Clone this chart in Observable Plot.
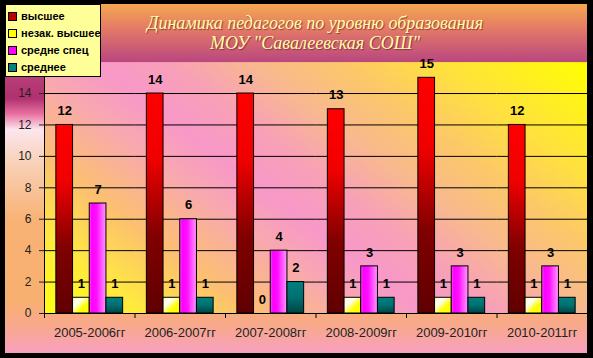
<!DOCTYPE html>
<html><head><meta charset="utf-8">
<script src="https://cdn.jsdelivr.net/npm/d3@7"></script>
<script src="https://cdn.jsdelivr.net/npm/@observablehq/plot@0.6"></script>
<style>
html,body{margin:0;padding:0;background:#000;width:593px;height:358px;overflow:hidden;}
#wrap{position:absolute;left:5px;top:4px;width:582px;height:349px;overflow:hidden;
  background:linear-gradient(to bottom,#f4a850 0%,#e47a66 7%,#bc4a7e 16%,#b03070 27%,#e870a0 31.5%,#fce6ee 36%,#f8d2ba 45%,#f8b274 62%,#f8b070 85%,#f8a890 93%,#f8a0c0 100%);}
#chart{position:absolute;left:0;top:0;}
#title{position:absolute;left:38px;width:544px;top:9px;text-align:center;
  font-family:"Liberation Serif","DejaVu Serif",serif;font-style:italic;font-size:18px;line-height:20px;
  color:#ffffa0;text-shadow:1px 1px 1px rgba(110,30,60,0.7);white-space:pre;}
#legend{position:absolute;left:0;top:0;width:94px;height:71px;background:#ffff99;border:1px solid #000;
  font-family:"Liberation Sans",Arial,sans-serif;font-weight:bold;font-size:11px;color:#000;}
#legend .item{position:absolute;left:2px;height:12px;line-height:12px;white-space:nowrap;}
#legend .sw{display:inline-block;width:7px;height:7px;border:1px solid #000;margin-right:4px;vertical-align:middle;position:relative;top:-1px;}
</style></head><body>
<div id="wrap"><div id="chart"></div><div id="title"></div><div id="legend"></div></div>
<script>
const titleLines = ["Динамика педагогов по уровню образования", "МОУ \"Савалеевская СОШ\""];
const categories = ["2005-2006гг", "2006-2007гг", "2007-2008гг", "2008-2009гг", "2009-2010гг", "2010-2011гг"];
const seriesNames = ["высшее", "незак. высшее", "средне спец", "среднее"];
const vysshee = [12, 14, 14, 13, 15, 12];
const nezakVysshee = [1, 1, 0, 1, 1, 1];
const sredneSpec = [7, 6, 4, 3, 3, 3];
const srednee = [1, 1, 2, 1, 1, 1];
const yTicks = [0, 2, 4, 6, 8, 10, 12, 14];
const gridTicks = [0, 2, 4, 6, 8, 10, 12, 14];
const seriesFills = ["url(#gRed)", "url(#gYellow)", "url(#gMagenta)", "url(#gTeal)"];
const legendSwatch = ["#c00000", "#ffff00", "#ff00ff", "#008080"];

const seriesValues = [vysshee, nezakVysshee, sredneSpec, srednee];
const rows = [];
categories.forEach((c, i) => seriesNames.forEach((s, j) => rows.push({year: c, series: s, value: seriesValues[j][i]})));

document.getElementById("title").textContent = titleLines.join("\n");
const leg = document.getElementById("legend");
seriesNames.forEach((s, j) => {
  const d = document.createElement("div");
  d.className = "item";
  d.style.top = (5 + j * 17) + "px";
  d.innerHTML = `<span class="sw" style="background:${legendSwatch[j]}"></span>`;
  d.appendChild(document.createTextNode(s));
  leg.appendChild(d);
});

const W = 582, H = 349, mL = 39, mR = 0;
const band = (W - mL - mR) / categories.length;

const plot = Plot.plot({
  width: W, height: H,
  marginLeft: mL, marginRight: mR, marginTop: 57.6, marginBottom: 40,
  style: {background: "transparent", fontFamily: "'Liberation Sans', Arial, sans-serif", color: "#000", overflow: "visible"},
  fx: {domain: categories, padding: 0, round: false, label: null, axis: null},
  x: {domain: seriesNames, paddingInner: 0, paddingOuter: 0.71, round: false, axis: null},
  y: {domain: [0, 16], axis: null},
  marks: [
    Plot.frame({fill: "url(#plotBg)", stroke: null, facet: "super"}),
    Plot.ruleY(gridTicks, {stroke: "#000", strokeWidth: 1}),
    ...seriesNames.map((s, j) => Plot.barY(rows.filter(r => r.series === s), {
      fx: "year", x: "series", y: "value", fill: seriesFills[j], stroke: "#000", strokeWidth: 1
    })),
    Plot.text(rows, {fx: "year", x: "series", y: "value", text: d => String(d.value), dy: -14,
      fontWeight: "bold", fontSize: 13, fill: "#000"}),
    Plot.axisY({ticks: yTicks, tickSize: 5, tickPadding: 8, fontSize: 12, label: null, color: "#222"}),
    Plot.frame({anchor: "left", stroke: "#000", facet: "super"}),
    Plot.axisFx({anchor: "bottom", tickSize: 0, tickPadding: 14, fontSize: 13, label: null, color: "#222"}),
    Plot.axisFx({anchor: "bottom", tickSize: 5, tickFormat: () => "", dx: -band / 2, label: null, color: "#000"})
  ]
});

const svg = d3.select(plot);
const defs = svg.insert("defs", ":first-child");
function lin(id, attrs, stops) {
  const g = defs.append("linearGradient").attr("id", id);
  Object.entries(attrs).forEach(([k, v]) => g.attr(k, v));
  stops.forEach(([o, c]) => g.append("stop").attr("offset", o).attr("stop-color", c));
}
lin("plotBg", {gradientUnits: "userSpaceOnUse", x1: 39, y1: 309, x2: 355.8, y2: -113.4},
  [[0, "#ffff10"], [0.12, "#ffe840"], [0.235, "#fcc070"], [0.36, "#f8a8b0"], [0.434, "#f898c8"], [0.52, "#f8a0b8"], [0.614, "#f8b890"], [0.72, "#fcc868"], [0.82, "#ffe040"], [1, "#ffff00"]]);
lin("gRed", {x1: 0, y1: 0, x2: 0, y2: 1}, [[0, "#ff0000"], [0.3, "#f00000"], [0.65, "#800000"], [1, "#600000"]]);
lin("gYellow", {x1: 0, y1: 0, x2: 1, y2: 1}, [[0, "#ffffb0"], [0.3, "#ffffff"], [0.65, "#ffff00"], [1, "#ffff00"]]);
lin("gMagenta", {x1: 0, y1: 0, x2: 1, y2: 0}, [[0, "#ff50ff"], [0.15, "#ff00ff"], [0.45, "#ff10ff"], [1, "#ff99ff"]]);
lin("gTeal", {x1: 0, y1: 0, x2: 0, y2: 1}, [[0, "#008080"], [0.5, "#007070"], [1, "#004444"]]);

document.getElementById("chart").appendChild(plot);
</script>
</body></html>
